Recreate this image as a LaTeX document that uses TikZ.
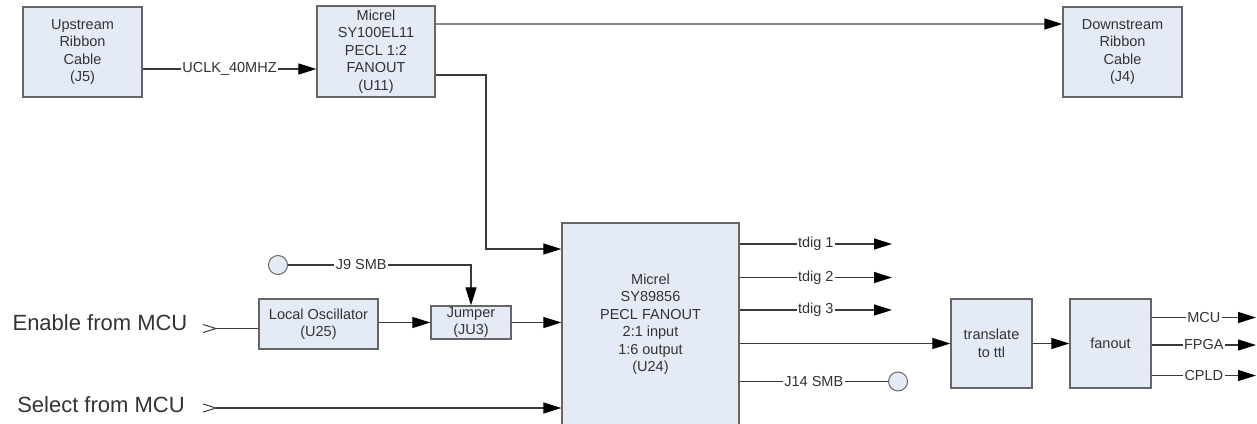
\documentclass[tikz,border=0pt]{standalone}
\usepackage{fontspec}
\setmainfont{Liberation Sans}
\usetikzlibrary{arrows.meta}
\definecolor{boxfill}{HTML}{E5EBF6}
\definecolor{boxline}{HTML}{666666}
\definecolor{wire}{HTML}{3A3A3A}
\definecolor{txt}{HTML}{333333}
\definecolor{busline}{HTML}{8A8A8A}
\begin{document}
\begin{tikzpicture}[x=1pt,y=-1pt,
  font=\fontsize{14.5}{17.5}\selectfont, text=txt,
  blk/.style={draw=boxline, line width=1.3pt, fill=boxfill, align=center, inner sep=0pt},
  wirestyle/.style={draw=wire, line width=1.2pt},
  arr/.style={wirestyle, -{Triangle[length=18pt,width=11pt,color=black]}},
  lbl/.style={fill=white, inner sep=1.5pt, text=txt},
  smb/.style={circle, draw=boxline, line width=1pt, fill=boxfill, minimum size=19pt, inner sep=0pt},
  big/.style={font=\fontsize{22}{26}\selectfont, text=txt},
  chev/.style={draw=wire, line width=1pt}
]
\useasboundingbox (0,0) rectangle (1257,423);
\clip (0,0) rectangle (1257,423);

% blocks
\node[blk, minimum width=119pt, minimum height=90pt] (up) at (82.5,52) {Upstream\\Ribbon\\Cable\\(J5)};
\node[blk, minimum width=118pt, minimum height=91pt] (u11) at (376,51.5) {Micrel\\SY100EL11\\PECL 1:2\\FANOUT\\(U11)};
\node[blk, minimum width=119pt, minimum height=90pt] (down) at (1122.5,52) {Downstream\\Ribbon\\Cable\\(J4)};
\node[blk, minimum width=119pt, minimum height=50pt] (osc) at (318.5,324) {Local Oscillator\\(U25)};
\node[blk, minimum width=80pt, minimum height=33pt] (jmp) at (471,322.5) {Jumper\\(JU3)};
\node[blk, minimum width=177pt, minimum height=202pt] (u24) at (650.5,324) {Micrel\\SY89856\\PECL FANOUT\\2:1 input\\1:6 output\\(U24)};
\node[blk, minimum width=81pt, minimum height=89pt] (ttl) at (991.5,343.5) {translate\\to ttl};
\node[blk, minimum width=81pt, minimum height=89pt] (fan) at (1110.5,343.5) {fanout};

% SMB connectors
\node[smb] (j9) at (278,265) {};
\node[smb] (j14) at (898,381.5) {};

% external inputs
\node[big] (entxt) at (100,323) {Enable from MCU};
\node[big] (seltxt) at (101,405) {Select from MCU};
\coordinate (en) at (216,328.5);
\coordinate (sel) at (216,408);
\draw[chev] ([xshift=-13pt,yshift=4pt]en) -- (en) -- ([xshift=-13pt,yshift=-4pt]en);
\draw[chev] ([xshift=-13pt,yshift=4pt]sel) -- (sel) -- ([xshift=-13pt,yshift=-4pt]sel);

% free ends of output wires
\coordinate (t1) at (892,244);
\coordinate (t2) at (892,277.5);
\coordinate (t3) at (892,310);
\coordinate (omcu) at (1256,317.5);
\coordinate (ofpga) at (1256,345);
\coordinate (ocpld) at (1256,375.5);

% clock path
\draw[arr] (up.east |- 0,69) -- node[lbl] {UCLK\_40MHZ} (u11.west |- 0,69);
\draw[arr, draw=busline, line width=1.5pt] (u11.east |- 0,24) -- (down.west |- 0,24);
\draw[arr] (u11.east |- 0,75) -- (486,75) |- (u24.west |- 0,249);

% oscillator / jumper path
\draw[wirestyle] (en) -- (osc.west |- en);
\draw[arr] (osc.east |- jmp.west) -- (jmp.west);
\draw[arr] (jmp.east) -- (u24.west |- jmp.east);
\draw[arr] (j9.east) -- node[lbl, pos=0.4] {J9 SMB} (jmp.north |- j9) -- (jmp.north);
\draw[arr] (sel) -- (u24.west |- sel);

% U24 outputs
\draw[arr] (u24.east |- t1) -- node[lbl] {tdig 1} (t1);
\draw[arr] (u24.east |- t2) -- node[lbl] {tdig 2} (t2);
\draw[arr] (u24.east |- t3) -- node[lbl] {tdig 3} (t3);
\draw[arr] (u24.east |- ttl.west) -- (ttl.west);
\draw[wirestyle] (u24.east |- j14) -- node[lbl] {J14 SMB} (j14.west);

% TTL fanout
\draw[arr] (ttl.east) -- (fan.west);
\draw[arr] (fan.east |- omcu) -- node[lbl] {MCU} (omcu);
\draw[arr] (fan.east |- ofpga) -- node[lbl] {FPGA} (ofpga);
\draw[arr] (fan.east |- ocpld) -- node[lbl] {CPLD} (ocpld);
\end{tikzpicture}
\end{document}
